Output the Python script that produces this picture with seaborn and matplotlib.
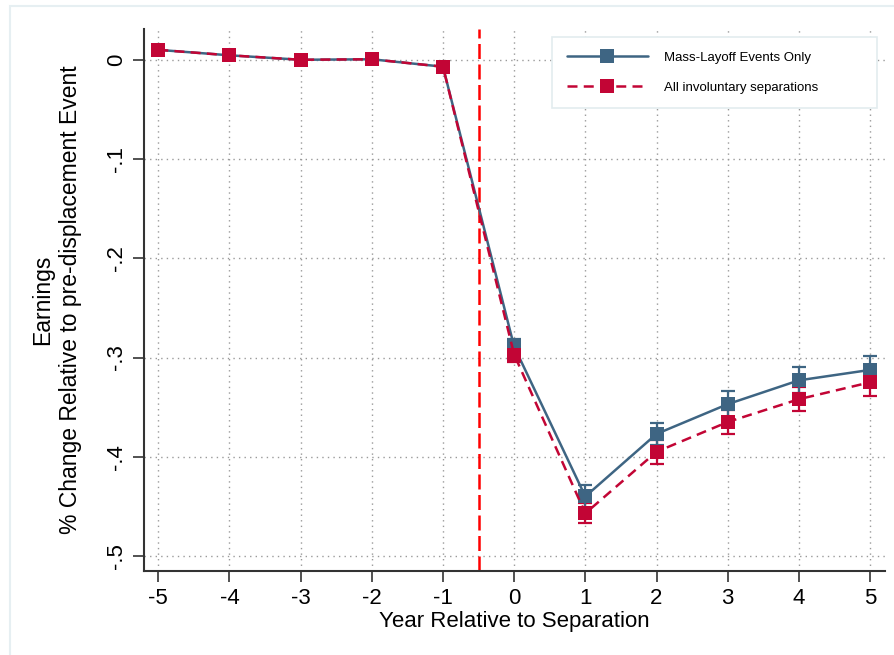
import numpy as np
import pandas as pd
import matplotlib
matplotlib.use("Agg")
import matplotlib.pyplot as plt
from matplotlib.lines import Line2D
from matplotlib.patches import Rectangle
import seaborn as sns

years = [-5, -4, -3, -2, -1, 0, 1, 2, 3, 4, 5]
mass_layoff = [0.010, 0.0045, 0.0, 0.0005, -0.007, -0.289, -0.440, -0.377, -0.347, -0.323, -0.3125]
mass_layoff_ci = [0.0, 0.0, 0.0, 0.0, 0.0, 0.008, 0.012, 0.011, 0.013, 0.013, 0.014]
all_invol = [0.010, 0.0045, 0.0, 0.0005, -0.007, -0.297, -0.457, -0.395, -0.365, -0.342, -0.325]
all_invol_ci = [0.0, 0.0, 0.0, 0.0, 0.0, 0.008, 0.010, 0.012, 0.012, 0.012, 0.014]
series_names = ["Mass-Layoff Events Only", "All involuntary separations"]
y_ticks = [0, -0.1, -0.2, -0.3, -0.4, -0.5]
y_tick_labels = ["0", "-.1", "-.2", "-.3", "-.4", "-.5"]
x_ticks = years
event_line = -0.5

blue = "#3E6583"
red = "#C20535"

sns.set_style("ticks")
plt.rcParams["font.family"] = ["Liberation Sans", "DejaVu Sans"]
plt.rcParams["text.color"] = "black"
plt.rcParams["axes.labelcolor"] = "black"
plt.rcParams["xtick.labelcolor"] = "black"
plt.rcParams["ytick.labelcolor"] = "black"

W, H = 895, 655
fig = plt.figure(figsize=(W / 100, H / 100), dpi=100)
fig.patch.set_facecolor("white")

# outer light frame
fig.patches.append(Rectangle((10 / W, -0.1), 1.2, 1 - 6 / H + 0.1, transform=fig.transFigure,
                             fill=False, edgecolor="#E6EFF2", linewidth=1.5, zorder=0))

left, right, top, bottom = 144, 885, 29, 571
ax = fig.add_axes([left / W, (H - bottom) / H, (right - left) / W, (bottom - top) / H])

df = pd.DataFrame({
    "year": years * 2,
    "value": mass_layoff + all_invol,
    "series": [series_names[0]] * len(years) + [series_names[1]] * len(years),
})

ax.axvline(event_line, color="#FF0000", linestyle=(0, (6, 2.2)), linewidth=1.8, zorder=1)

# error bars
for vals, ci, col, z in [(all_invol, all_invol_ci, red, 2), (mass_layoff, mass_layoff_ci, blue, 3)]:
    v = np.array(vals); c = np.array(ci)
    mask = c > 0
    ax.errorbar(np.array(years)[mask], v[mask], yerr=c[mask], fmt="none", ecolor=col,
                elinewidth=1.6, capsize=5, capthick=1.6, zorder=z)

sns.lineplot(data=df, x="year", y="value", hue="series", style="series",
             hue_order=series_names, style_order=series_names,
             palette={series_names[0]: blue, series_names[1]: red},
             dashes={series_names[0]: "", series_names[1]: (4, 2.5)},
             markers={series_names[0]: "s", series_names[1]: "s"},
             markersize=10, markeredgewidth=0, linewidth=1.8,
             ax=ax, legend=False, zorder=4)

ax.set_xlim(-5.2, 5.21)
ax.set_ylim(-0.5151, 0.031)
ax.set_xticks(x_ticks)
ax.set_xticklabels([str(x) for x in x_ticks], fontsize=16)
ax.set_yticks(y_ticks)
ax.set_yticklabels(y_tick_labels, fontsize=16, rotation=90, va="center", ha="center")
ax.tick_params(axis="both", direction="out", length=8, width=1.2, color="#333333")
ax.tick_params(axis="y", pad=12)
ax.tick_params(axis="x", pad=4)

ax.grid(True, color="#9A9A9A", linestyle=(0, (1, 3)), linewidth=1.0)
ax.set_axisbelow(True)
for s in ["top", "right"]:
    ax.spines[s].set_visible(False)
for s in ["left", "bottom"]:
    ax.spines[s].set_color("#333333")
    ax.spines[s].set_linewidth(1.5)

ax.set_xlabel("Year Relative to Separation", fontsize=16, labelpad=2)
ax.set_ylabel("Earnings\n% Change Relative to pre-displacement Event", fontsize=16.5,
              labelpad=17, linespacing=1.3)

handles = [
    Line2D([], [], color=blue, linestyle="-", linewidth=1.8, marker="s", markersize=10,
           markeredgewidth=0),
    Line2D([], [], color=red, linestyle=(0, (4, 2.5)), linewidth=1.8, marker="s", markersize=10,
           markeredgewidth=0),
]
leg = ax.legend(handles, series_names, loc="upper left",
                bbox_to_anchor=(552 / W, 1 - 110 / H, 325 / W, 73 / H), mode="expand",
                bbox_transform=fig.transFigure,
                borderaxespad=0, fontsize=9.5, handlelength=6.2, numpoints=1,
                frameon=True, fancybox=False, borderpad=1.1, labelspacing=1.35,
                handletextpad=1.2)
leg.get_frame().set_edgecolor("#E3ECEF")
leg.get_frame().set_linewidth(1.2)
leg.get_frame().set_facecolor("white")
leg.get_frame().set_alpha(1)
leg.set_zorder(10)

fig.savefig("out.png", dpi=100)
